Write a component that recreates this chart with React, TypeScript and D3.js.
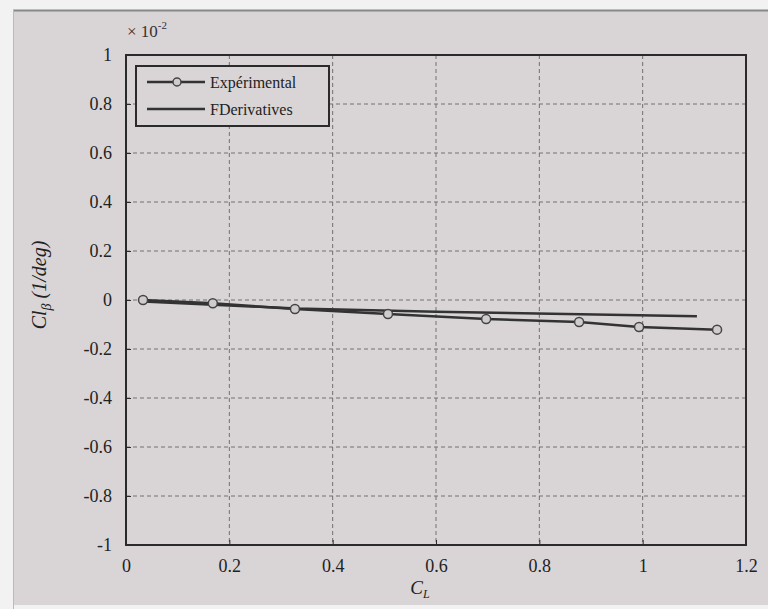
import React, { useRef, useEffect } from "react";
import * as d3 from "d3";

// Cl_beta vs C_L, values in units of 1e-2
const expCL = [0.033, 0.168, 0.327, 0.507, 0.697, 0.877, 0.993, 1.144];
const expCl = [0.0, -0.013, -0.037, -0.057, -0.078, -0.09, -0.11, -0.121];
const fdCL = [0.033, 0.33, 0.6, 1.105];
const fdCl = [-0.006, -0.035, -0.048, -0.066];
const xTicks = [0, 0.2, 0.4, 0.6, 0.8, 1, 1.2];
const yTicks = [1, 0.8, 0.6, 0.4, 0.2, 0, -0.2, -0.4, -0.6, -0.8, -1];

const App = () => {
  const svgRef = useRef<SVGSVGElement>(null);

  useEffect(() => {
    const svg = d3.select(svgRef.current);
    svg.selectAll("*").remove();

    const width = 768;
    const height = 609;
    const left = 126;
    const right = 746;
    const top = 55;
    const bottom = 545;
    const ink = "#2b2b2b";
    const font = "'Liberation Serif', 'DejaVu Serif', serif";

    // scanned page background
    svg.append("rect").attr("width", width).attr("height", height).attr("fill", "#f2f2f2");
    svg
      .append("rect")
      .attr("x", 13)
      .attr("y", 10)
      .attr("width", width - 13)
      .attr("height", height - 14)
      .attr("fill", "#d9d5d7");
    svg.append("line").attr("x1", 13).attr("x2", width).attr("y1", 10.5).attr("y2", 10.5).attr("stroke", "#888").attr("stroke-width", 2);
    svg.append("line").attr("x1", 13.5).attr("x2", 13.5).attr("y1", 10).attr("y2", height).attr("stroke", "#bbb").attr("stroke-width", 1);

    const x = d3.scaleLinear().domain([0, 1.2]).range([left, right]);
    const y = d3.scaleLinear().domain([-1, 1]).range([bottom, top]);

    // grid
    const grid = svg.append("g").attr("stroke", "#707070").attr("stroke-width", 1).attr("stroke-dasharray", "4,3");
    grid
      .selectAll("line.v")
      .data(xTicks.filter((t) => t > 0 && t < 1.2))
      .enter()
      .append("line")
      .attr("x1", (d) => x(d))
      .attr("x2", (d) => x(d))
      .attr("y1", top)
      .attr("y2", bottom);
    grid
      .selectAll("line.h")
      .data(yTicks.filter((t) => t > -1 && t < 1))
      .enter()
      .append("line")
      .attr("x1", left)
      .attr("x2", right)
      .attr("y1", (d) => y(d))
      .attr("y2", (d) => y(d));

    // axes
    const xAxis = d3.axisBottom(x).tickValues(xTicks).tickSize(-5).tickPadding(14);
    const gx = svg.append("g").attr("transform", `translate(0,${bottom})`).call(xAxis);
    const yAxis = d3.axisLeft(y).tickValues(yTicks).tickSize(-5).tickPadding(14);
    const gy = svg.append("g").attr("transform", `translate(${left},0)`).call(yAxis);
    [gx, gy].forEach((g) => {
      g.select(".domain").remove();
      g.selectAll("line").attr("stroke", ink);
      g.selectAll("text").attr("font-family", font).attr("font-size", 18).attr("fill", "#222");
    });
    gy.selectAll("text").text((d: any) => String(d));
    gx.selectAll("text").text((d: any) => String(d));

    svg
      .append("rect")
      .attr("x", left)
      .attr("y", top)
      .attr("width", right - left)
      .attr("height", bottom - top)
      .attr("fill", "none")
      .attr("stroke", ink)
      .attr("stroke-width", 2);

    // scale exponent
    const ex = svg.append("text").attr("x", 127).attr("y", 37).attr("font-family", font).attr("font-size", 17).attr("fill", "#333");
    ex.append("tspan").text("× 10");
    ex.append("tspan").attr("dy", -8).attr("font-size", 11).text("-2");

    // axis labels
    const yl = svg
      .append("text")
      .attr("transform", "translate(46,285) rotate(-90)")
      .attr("text-anchor", "middle")
      .attr("font-family", font)
      .attr("font-style", "italic")
      .attr("font-size", 20)
      .attr("fill", "#222");
    yl.append("tspan").text("Cl");
    yl.append("tspan").attr("dy", 5).attr("font-size", 14).text("β");
    yl.append("tspan").attr("dy", -5).text(" (1/deg)");

    const xl = svg
      .append("text")
      .attr("x", 420)
      .attr("y", 594)
      .attr("text-anchor", "middle")
      .attr("font-family", font)
      .attr("font-style", "italic")
      .attr("font-size", 19)
      .attr("fill", "#222");
    xl.append("tspan").text("C");
    xl.append("tspan").attr("dy", 4).attr("font-size", 12).text("L");

    // series
    const fdPts: [number, number][] = fdCL.map((c, i) => [c, fdCl[i]]);
    const expPts: [number, number][] = expCL.map((c, i) => [c, expCl[i]]);
    const path = d3
      .line<[number, number]>()
      .x((d) => x(d[0]))
      .y((d) => y(d[1]));

    svg.append("path").attr("d", path(fdPts)).attr("fill", "none").attr("stroke", "#333").attr("stroke-width", 2.5);
    svg.append("path").attr("d", path(expPts)).attr("fill", "none").attr("stroke", "#333").attr("stroke-width", 2.5);
    svg
      .selectAll("circle.exp")
      .data(expPts)
      .enter()
      .append("circle")
      .attr("cx", (d) => x(d[0]))
      .attr("cy", (d) => y(d[1]))
      .attr("r", 4.5)
      .attr("fill", "#d0ccce")
      .attr("stroke", "#444")
      .attr("stroke-width", 1.5);

    // legend
    const lg = svg.append("g");
    lg.append("rect")
      .attr("x", 136)
      .attr("y", 66)
      .attr("width", 193)
      .attr("height", 60)
      .attr("fill", "#d9d5d7")
      .attr("stroke", ink)
      .attr("stroke-width", 2);
    lg.append("line").attr("x1", 147).attr("x2", 205).attr("y1", 82).attr("y2", 82).attr("stroke", "#333").attr("stroke-width", 2.5);
    lg.append("circle").attr("cx", 177).attr("cy", 82).attr("r", 4).attr("fill", "#d0ccce").attr("stroke", "#444").attr("stroke-width", 1.5);
    lg.append("line").attr("x1", 147).attr("x2", 205).attr("y1", 109).attr("y2", 109).attr("stroke", "#333").attr("stroke-width", 2.5);
    lg.append("text").attr("x", 210).attr("y", 88).attr("font-family", font).attr("font-size", 16).attr("fill", "#222").text("Expérimental");
    lg.append("text").attr("x", 210).attr("y", 115).attr("font-family", font).attr("font-size", 16).attr("fill", "#222").text("FDerivatives");
  }, []);

  return (
    <svg
      ref={svgRef}
      width={768}
      height={609}
      style={{ position: "absolute", left: 0, top: 0, display: "block" }}
    />
  );
};

export default App;
